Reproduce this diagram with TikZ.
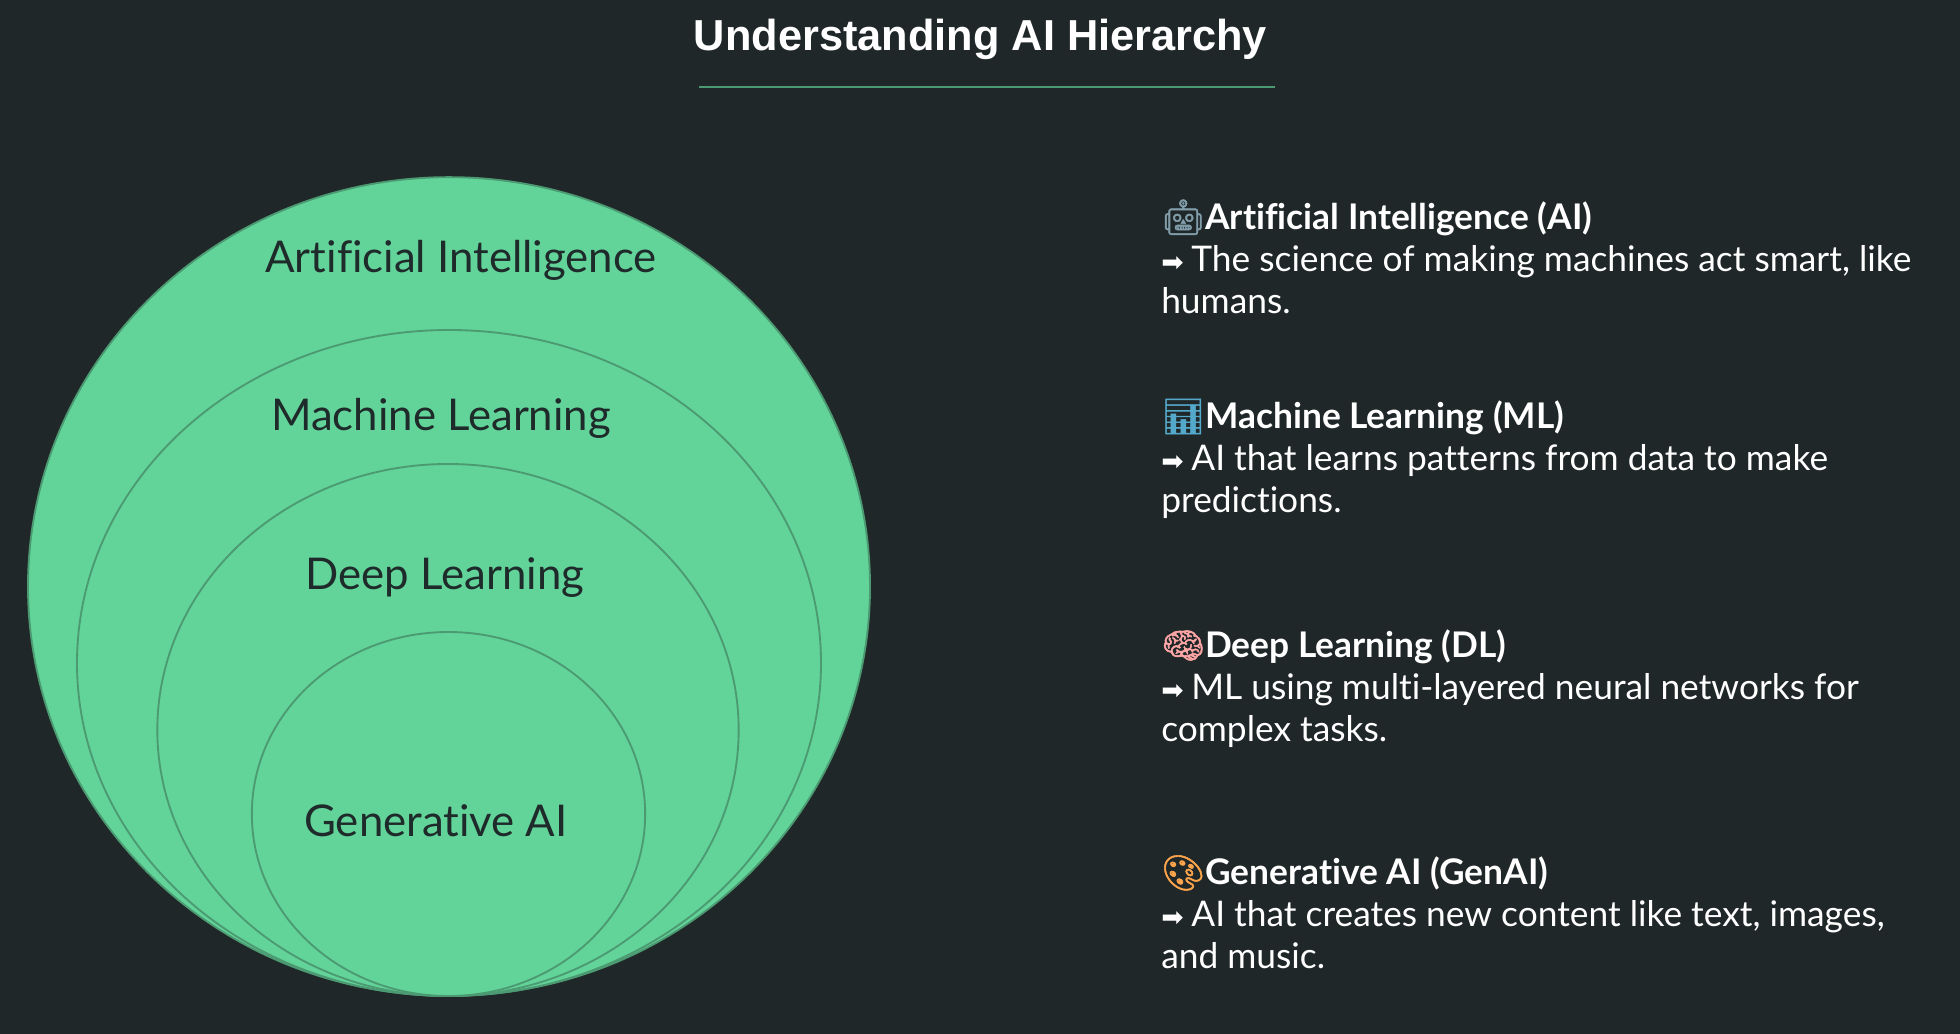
\documentclass[tikz,border=0pt]{standalone}
\usepackage{fontspec}
\usepackage{xcolor}
\usetikzlibrary{positioning,shapes.geometric}
\setmainfont{Lato}[Ligatures=CommonOff]
\newfontfamily\titlefont{Liberation Sans}
\newfontfamily\emojifont{Noto Emoji}[FakeBold=1.5]
\newfontfamily\arrowfont{DejaVu Sans}
\definecolor{pagebg}{HTML}{202729}
\definecolor{setgreen}{HTML}{62D49A}
\definecolor{setline}{HTML}{4C9A72}
\definecolor{setink}{HTML}{1F2A2A}
\newcommand{\emo}[2]{\smash{\textcolor{#1}{\emojifont\fontsize{26}{26}\selectfont #2}}}
\newcommand{\toarrow}{\smash{\arrowfont\fontsize{20}{20}\selectfont ➡}\hspace{-1pt}}
\begin{document}
\begin{tikzpicture}[
  x=0.75pt,y=-0.75pt,
  layer/.style={draw=setline,line width=1.4pt,fill=setgreen,ellipse,inner sep=0pt},
  layername/.style={text=setink,font=\fontsize{32.8}{38}\selectfont},
  entry/.style={text=white,align=left,anchor=north west,inner sep=0pt,
                font=\fontsize{26.5}{31.5}\selectfont},
  headline/.style={text=white,font=\titlefont\bfseries\fontsize{32.5}{38}\selectfont}
]
\fill[pagebg] (0,0) rectangle (1960,1034);
\useasboundingbox (0,0) rectangle (1960,1034);
\node[headline] (title) at (980.5,39) {Understanding AI Hierarchy};
\coordinate (rule-l) at (699,87);
\coordinate (rule-r) at (1275,87);
\draw[setline,line width=1.8pt] (rule-l) -- (rule-r);
\node[layer,minimum width=631.5pt,minimum height=614pt] (ai-set) at (449,586.5) {};
\node[layer,minimum width=558pt,minimum height=499.5pt] (ml-set) at (449,663) {};
\node[layer,minimum width=436pt,minimum height=399pt] (dl-set) at (448,730) {};
\node[layer,minimum width=295pt,minimum height=273pt] (gen-set) at (448.5,814) {};
\node[layername] (ai-name) at (461,260) {Artificial Intelligence};
\node[layername] (ml-name) at (441,418) {Machine Learning};
\node[layername] (dl-name) at (445,578) {Deep Learning};
\node[layername] (gen-name) at (436,821) {Generative AI};
\node[entry] (ai-entry) at (1161,201) {\emo{gray!75!cyan}{🤖}\textbf{Artificial Intelligence (AI)}\\
  \toarrow{} The science of making machines act smart, like\\humans.};
\node[entry,below=65.1pt of ai-entry.south west,anchor=north west] (ml-entry) {\emo{cyan!60!gray}{📊}\textbf{Machine Learning (ML)}\\
  \toarrow{} AI that learns patterns from data to make\\predictions.};
\node[entry,below=83pt of ml-entry.south west,anchor=north west] (dl-entry) {\emo{red!35!white}{🧠}\textbf{Deep Learning (DL)}\\
  \toarrow{} ML using multi-layered neural networks for\\complex tasks.};
\node[entry,below=81.8pt of dl-entry.south west,anchor=north west] (gen-entry) {\emo{orange!70!white}{🎨}\textbf{Generative AI (GenAI)}\\
  \toarrow{} AI that creates new content like text, images,\\and music.};
\end{tikzpicture}
\end{document}
